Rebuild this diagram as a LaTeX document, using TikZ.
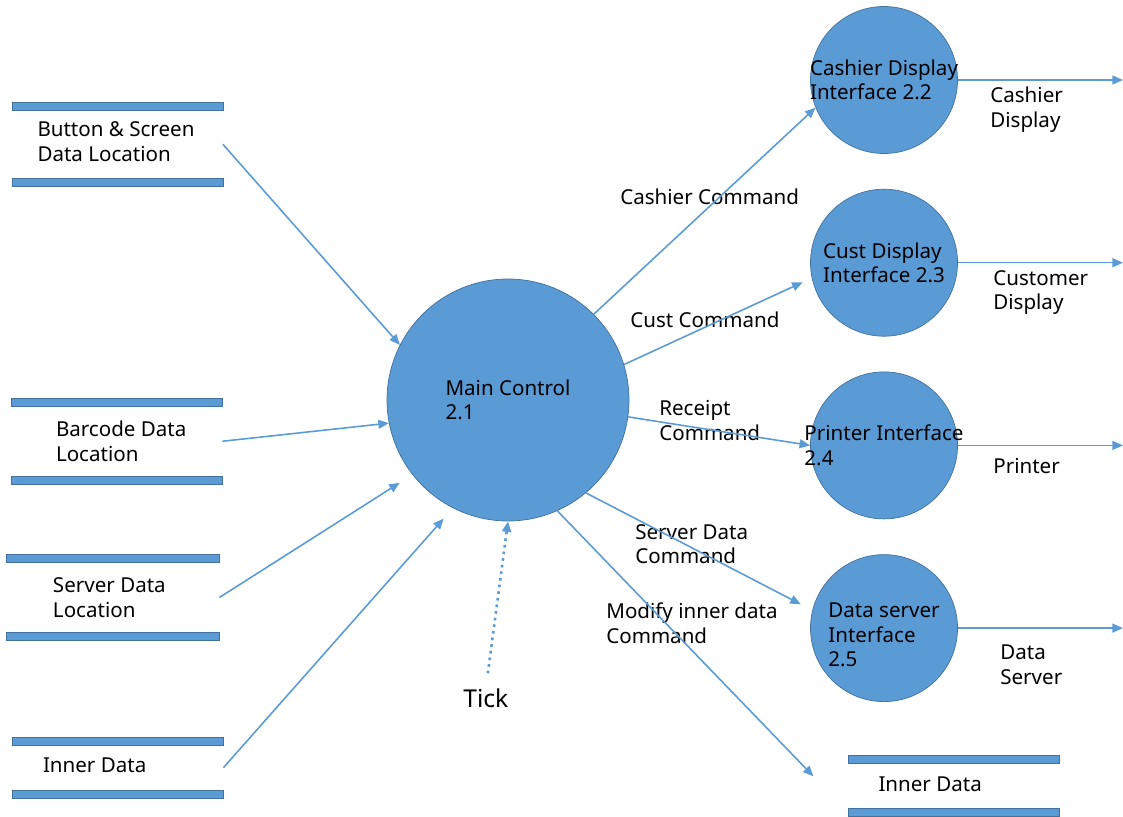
\documentclass[tikz,border=0pt]{standalone}
\usepackage{fontspec}
\setmainfont{Noto Sans}
\usetikzlibrary{arrows.meta,positioning}

\definecolor{procfill}{HTML}{5B9BD5}
\definecolor{procline}{HTML}{41719C}

\begin{document}
\begin{tikzpicture}[
    node distance=7mm,
    font=\fontsize{11.7}{14}\selectfont,
    proc/.style={circle, inner sep=0pt, minimum size=29.4mm,
      fill=procfill, draw=procline, thin},
    proctext/.style={align=left, inner sep=0pt},
    store/.style={rectangle, inner sep=0pt, minimum width=42mm},
    storetext/.style={anchor=west, align=left, inner sep=0pt},
    bar/.style={fill=procfill, draw=procline, thin},
    lbl/.style={anchor=west, align=left, inner sep=0pt},
    flow/.style={procfill, line width=0.9pt,
      -{Triangle[length=6pt, width=5pt]}},
    tickflow/.style={flow, line width=1.5pt, dash pattern=on 1.5pt off 2.3pt}
  ]

  \useasboundingbox (0,0) rectangle (22.46,-16.34);

  % main process in the middle

  \node (main) [proc, minimum size=48.4mm,
                label={[proctext]center:Main Control\\2.1}] at (10.16,-8.00) {};

  % interfaces stacked on the right
  \node (cdi)  [proc, label={[proctext]center:Cashier Display\\Interface 2.2}]
                                           at (17.68,-1.60) {};
  \node (cust) [proc, below=of cdi,
                label={[proctext]center:Cust Display\\Interface 2.3}] {};
  \node (prn)  [proc, below=of cust,
                label={[proctext]center:Printer Interface\\2.4}] {};
  \node (dsi)  [proc, below=of prn,
                label={[proctext, yshift=-1.4mm]center:Data server\\Interface\\2.5}] {};

  % data stores
  \node (bsdata)   [store, minimum height=15.1mm,
                    label={[storetext, xshift=5mm, yshift=0.5mm]west:Button \& Screen\\Data Location}]
                                           at (2.35,-2.885) {};
  \node (bcdata)   [store, minimum height=15.3mm,
                    label={[storetext, xshift=8.8mm]west:Barcode Data\\Location}]
                                           at (2.34,-8.825) {};
  \node (svdata)   [store, minimum width=42.4mm, minimum height=15.4mm,
                    label={[storetext, xshift=9.2mm]west:Server Data\\Location}]
                                           at (2.26,-11.95) {};
  \node (inner)    [store, minimum height=10.5mm,
                    label={[storetext, xshift=6mm, yshift=0.4mm]west:Inner Data}]
                                           at (2.36,-15.355) {};
  \node (innerout) [store, minimum height=10.4mm,
                    label={[storetext, xshift=6mm, yshift=0.3mm]west:Inner Data}]
                                           at (19.07,-15.72) {};

  \foreach \s in {bsdata,bcdata,svdata,inner,innerout} {
    \draw[bar] ([yshift=0.8mm]\s.north west) rectangle ([yshift=-0.8mm]\s.north east);
    \draw[bar] ([yshift=0.8mm]\s.south west) rectangle ([yshift=-0.8mm]\s.south east);
  }

  % flow labels
  \node (cashcmd) [lbl] at (12.40,-3.94)  {Cashier Command};
  \node (custcmd) [lbl] at (12.60,-6.40)  {Cust Command};
  \node (rcptcmd) [lbl] at (13.18,-8.41)  {Receipt\\Command};
  \node (srvcmd)  [lbl] at (12.70,-10.88) {Server Data\\Command};
  \node (modcmd)  [lbl] at (12.12,-12.46) {Modify inner data\\Command};
  \node (cashout) [lbl] at (19.80,-2.19)  {Cashier\\Display};
  \node (custout) [lbl] at (19.86,-5.85)  {Customer\\Display};
  \node (prnout)  [lbl] at (19.86,-9.33)  {Printer};
  \node (srvout)  [lbl] at (20.00,-13.30) {Data\\Server};
  \node (tick)    [lbl, font=\fontsize{14}{16}\selectfont] at (9.26,-13.96) {Tick};

  \coordinate (rim) at (22.46,0);

  % flows into the main process
  \draw[flow] (bsdata.east) -- (main.153);
  \draw[flow] (bcdata.east) -- (main.191);
  \draw[flow, shorten >=3mm]   (svdata.east) -- (main.218);
  \draw[flow, shorten >=2.8mm] (inner.east)  -- (main.243);

  \draw[tickflow, shorten <=3mm] (tick.north) -- (main.south);

  % flows out of the main process
  \draw[flow] (main.45) -- (cdi.202);
  \draw[flow, shorten >=2mm]   (main.17)  -- (cust.192);
  \draw[flow] (main.-8) -- (prn.west);
  \draw[flow, shorten >=2.6mm] (main.-50) -- (dsi.166);
  \draw[flow, shorten >=10mm]  (main.-66) -- (innerout.south west);

  % flows leaving the picture
  \draw[flow] (cdi.east)  -- (cdi.east -| rim);
  \draw[flow] (cust.east) -- (cust.east -| rim);
  \draw[flow] (prn.east)  -- (prn.east -| rim);
  \draw[flow] (dsi.east)  -- (dsi.east -| rim);

\end{tikzpicture}
\end{document}
